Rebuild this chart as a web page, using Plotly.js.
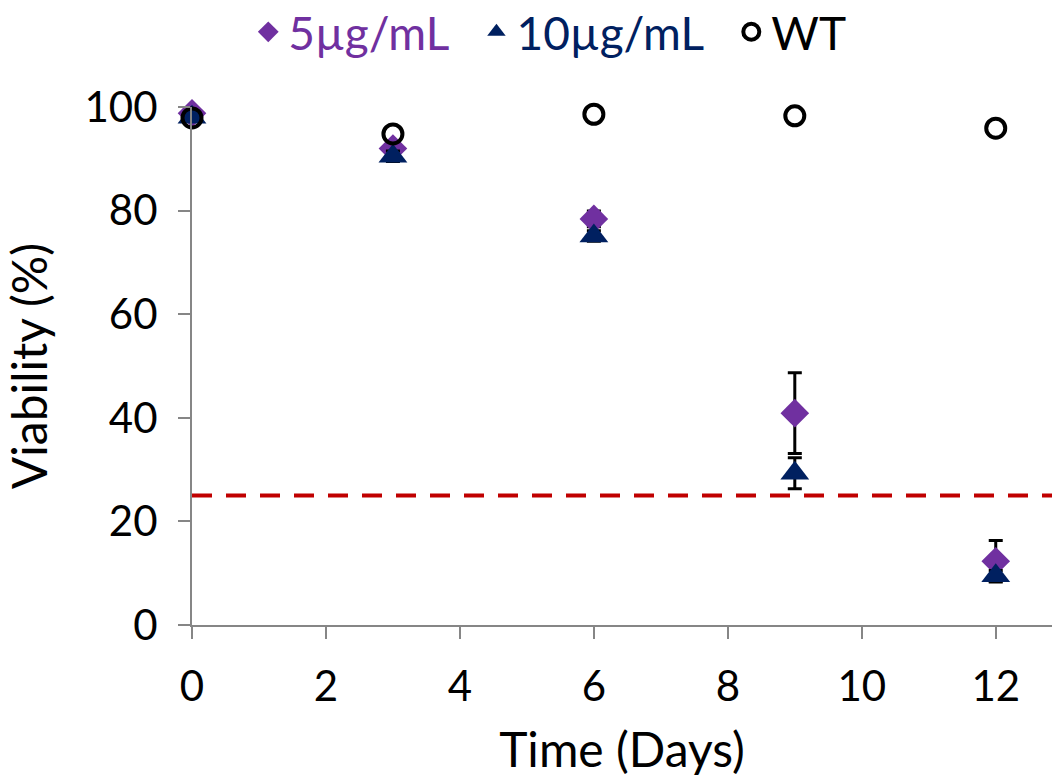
<!DOCTYPE html>
<html>
<head>
<meta charset="utf-8">
<script src="https://cdn.plot.ly/plotly-3.0.1.min.js"></script>
<style>html,body{margin:0;padding:0;background:#fff;}#chart{width:1053px;height:783px;}</style>
</head>
<body>
<div id="chart"></div>
<script>
const days = [0, 3, 6, 9, 12];
const v5 = [98.8, 92.0, 78.4, 40.9, 12.3];
const e5 = [0.5, 1.0, 1.5, 7.8, 4.0];
const v10 = [98.0, 90.5, 75.1, 29.3, 9.5];
const e10 = [0.5, 1.0, 1.0, 3.0, 1.0];
const vWT = [97.9, 94.8, 98.6, 98.3, 95.9];
const threshold = 25;
const xTicks = [0, 2, 4, 6, 8, 10, 12];
const yTicks = [0, 20, 40, 60, 80, 100];
const names = ['5µg/mL', '10µg/mL', 'WT'];

const FONT = 'Lato, "Noto Sans", sans-serif';
const err = (a) => ({type: 'data', array: a, visible: true, color: '#000', thickness: 3, width: 7});
const pad = '\u00a0\u00a0';

const traces = [
  {x: days, y: v5, type: 'scatter', mode: 'markers', name: '<span style="color:#7030a0">' + names[0] + pad + '</span>',
   cliponaxis: false,
   marker: {symbol: 'diamond', size: 22, color: '#7030a0'}, error_y: err(e5)},
  {x: days, y: v10, type: 'scatter', mode: 'markers', name: '<span style="color:#002060">' + names[1] + pad + '</span>',
   cliponaxis: false,
   marker: {symbol: 'triangle-up', size: 25, color: '#002060'}, error_y: err(e10)},
  {x: days, y: vWT, type: 'scatter', mode: 'markers', name: names[2],
   cliponaxis: false,
   marker: {symbol: 'circle-open', size: 19, color: '#000', line: {width: 4, color: '#000'}}}
];

const layout = {
  width: 1053, height: 783,
  margin: {l: 192, r: 1, t: 107, b: 158, autoexpand: false},
  paper_bgcolor: '#fff', plot_bgcolor: '#fff',
  font: {family: FONT, size: 40, color: '#000'},
  showlegend: true,
  legend: {orientation: 'h', x: 0.416, xanchor: 'center', y: 1.145, yanchor: 'middle',
           font: {family: FONT, size: 46, color: '#000'}, itemsizing: 'trace', itemwidth: 30,
           traceorder: 'normal'},
  xaxis: {range: [0, 12.84], tickvals: xTicks, ticktext: xTicks.map(String),
          showgrid: false, zeroline: false, showline: true, linecolor: '#868686', linewidth: 2,
          ticks: 'outside', ticklen: 12, tickwidth: 2, tickcolor: '#868686',
          ticklabelstandoff: 12,
          tickfont: {family: FONT, size: 42, color: '#000'},
          title: {text: 'Time (Days)', font: {family: FONT, size: 48, color: '#000'}, standoff: 24}},
  yaxis: {range: [0, 100], tickvals: yTicks, ticktext: yTicks.map(String),
          showgrid: false, zeroline: false, showline: true, linecolor: '#868686', linewidth: 2,
          ticks: 'outside', ticklen: 12, tickwidth: 2, tickcolor: '#868686',
          ticklabelstandoff: 12,
          tickfont: {family: FONT, size: 42, color: '#000'},
          title: {text: 'Viability (%)', font: {family: FONT, size: 48, color: '#000'}, standoff: 26}},
  shapes: [{type: 'line', xref: 'paper', x0: 0, x1: 1, yref: 'y', y0: threshold, y1: threshold,
            line: {color: '#c00000', width: 4, dash: '20px,14px'}}]
};

Plotly.newPlot('chart', traces, layout, {displayModeBar: false, staticPlot: true});
</script>
</body>
</html>
